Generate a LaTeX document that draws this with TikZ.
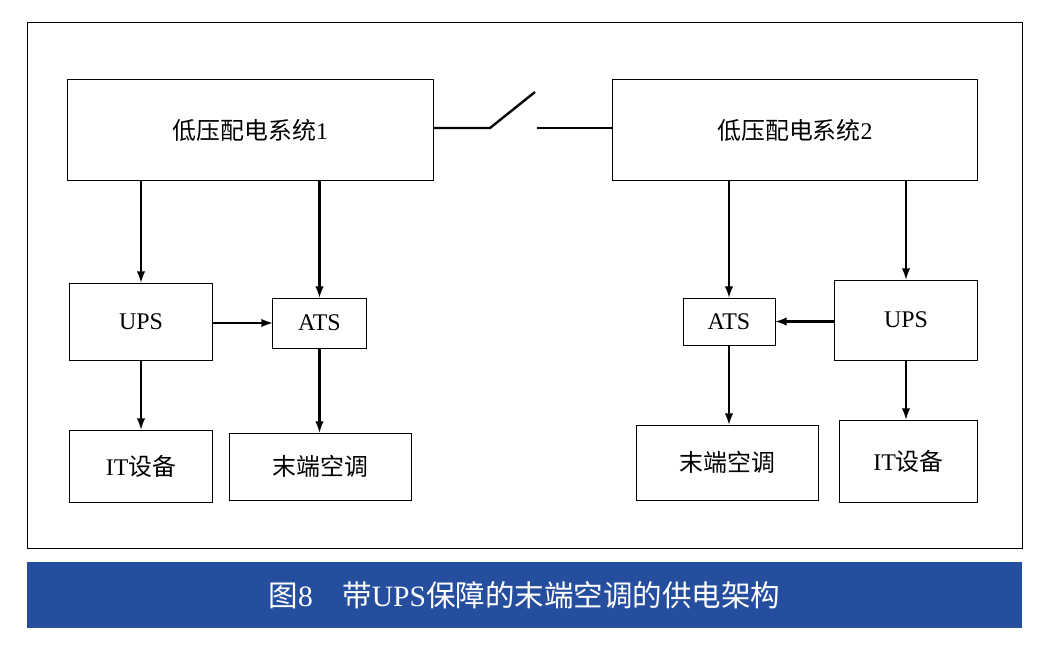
\documentclass[tikz,border=0pt]{standalone}
\usepackage{fontspec}
\setmainfont{Liberation Serif}
\newfontfamily\cjk{Noto Sans CJK SC}
\usetikzlibrary{positioning}
\definecolor{capblue}{RGB}{38,78,158}

\begin{document}
\begin{tikzpicture}[x=0.025cm,y=-0.025cm,inner sep=0pt,font=\fontsize{17}{20}\selectfont]
\tikzstyle{box}=[rectangle, draw=black, line width=0.7pt]
\tikzstyle{connect}=[-latex, line width=1.7pt]
\useasboundingbox (0,0) rectangle (1042,653);
\draw[line width=0.6pt] (27,22) rectangle (1022,548);
\fill[capblue] (27,562) rectangle (1022,628);
\node[text=white,font=\fontsize{21}{24}\selectfont] (cap) at (524.5,595) {{\cjk 图}8\quad{\cjk 带}UPS{\cjk 保障的末端空调的供电架构}};
\node[box,minimum width=9.125cm,minimum height=2.5cm] (sys1) at (250.5,130) {{\cjk 低压配电系统}1};
\node[box,minimum width=9.1cm,minimum height=2.5cm] (sys2) at (795,130) {{\cjk 低压配电系统}2};
\node[box,minimum width=3.55cm,minimum height=1.925cm] (upsL) at (141,321.5) {UPS};
\node[box,minimum width=2.325cm,minimum height=1.25cm] (atsL) at (319.5,323) {ATS};
\node[box,minimum width=3.55cm,minimum height=1.8cm] (itL) at (141,466) {IT{\cjk 设备}};
\node[box,minimum width=4.525cm,minimum height=1.675cm] (acL) at (320.5,466.5) {\cjk 末端空调};
\node[box,minimum width=2.3cm,minimum height=1.175cm] (atsR) at (729,321.5) {ATS};
\node[box,minimum width=3.55cm,minimum height=2cm] (upsR) at (906,320) {UPS};
\node[box,minimum width=4.525cm,minimum height=1.875cm] (acR) at (727.5,462.5) {\cjk 末端空调};
\node[box,minimum width=3.425cm,minimum height=2.05cm] (itR) at (908.5,461) {IT{\cjk 设备}};
% switch between the two systems
\coordinate (swA) at (490,128);
\coordinate (swB) at (535,92);
\coordinate (swC) at (537,128);
\draw[line width=1.7pt] (sys1.east |- swA) -- (swA) -- (swB);
\draw[line width=1.7pt] (swC) -- (sys2.west |- swC);
\draw[connect] (upsL |- sys1.south) -- (upsL.north);
\draw[connect] (atsL |- sys1.south) -- (atsL.north);
\draw[connect] (upsL.east |- atsL) -- (atsL.west);
\draw[connect] (upsL.south) -- (itL.north);
\draw[connect] (atsL.south) -- (acL.north -| atsL);
\draw[connect] (atsR |- sys2.south) -- (atsR.north);
\draw[connect] (upsR |- sys2.south) -- (upsR.north);
\draw[connect] (upsR.west |- atsR) -- (atsR.east);
\draw[connect] (atsR.south) -- (acR.north -| atsR);
\draw[connect] (upsR.south) -- (itR.north -| upsR);
\end{tikzpicture}
\end{document}
